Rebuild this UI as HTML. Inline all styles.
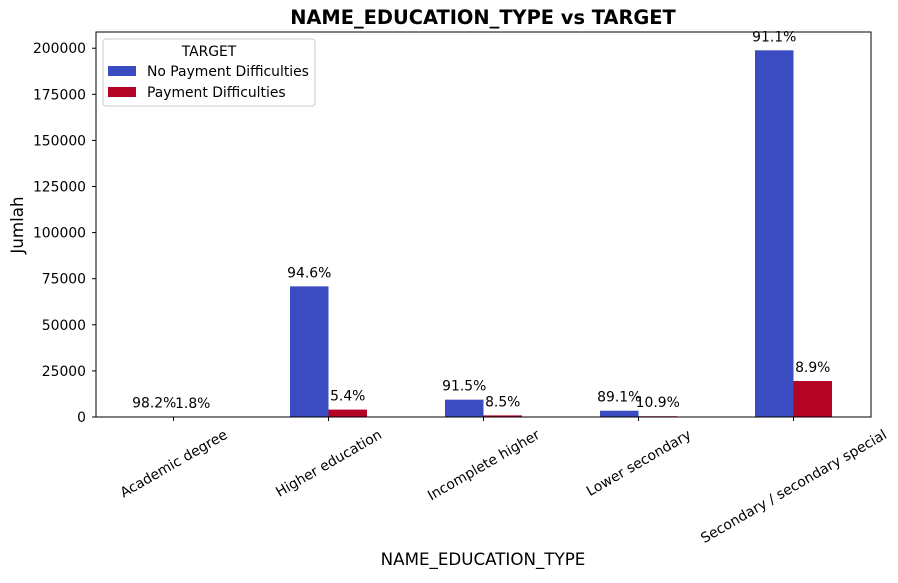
<!DOCTYPE html>
<html><head><meta charset="utf-8"><style>
body{margin:0;background:#fff;}
svg{font-family:"DejaVu Sans","Liberation Sans",sans-serif;}
</style></head><body>
<svg id="chart" width="898" height="578" xmlns="http://www.w3.org/2000/svg">
<text x="483" y="24" text-anchor="middle" font-size="19.4" font-weight="bold">NAME_EDUCATION_TYPE vs TARGET</text>
<g id="plot"></g>
<rect x="96" y="32" width="775" height="385" fill="none" stroke="#000" stroke-width="1"/>
<text x="483" y="565" text-anchor="middle" font-size="16.7">NAME_EDUCATION_TYPE</text>
<text transform="translate(23,225) rotate(-90)" text-anchor="middle" font-size="16.7">Jumlah</text>
<g>
<rect x="103" y="39" width="212" height="67" rx="3" fill="#fff" stroke="#ccc"/>
<text x="209" y="56" text-anchor="middle" font-size="13.9">TARGET</text>
<rect x="108" y="66" width="28" height="10" fill="#3b4cc0"/>
<text x="147" y="76" font-size="13.9">No Payment Difficulties</text>
<rect x="108" y="87" width="28" height="10" fill="#b40426"/>
<text x="147" y="97" font-size="13.9">Payment Difficulties</text>
</g>
</svg>
<script>
const categories=["Academic degree","Higher education","Incomplete higher","Lower secondary","Secondary / secondary special"];
const noDiff=[164,70854,9405,3399,198867];
const diff=[3,4009,872,417,19524];
const yTicks=[0,25000,50000,75000,100000,125000,150000,175000,200000];
const X0=96,W=775,Y0=417,YTOP=32,YMAX=208800;
const ns="http://www.w3.org/2000/svg";
const g=document.getElementById('plot');
const band=W/categories.length,bw=38.5;
const y=v=>Y0-(Y0-YTOP)*v/YMAX;
const xc=i=>X0+band*(i+0.5);
function mk(t,a,p){const e=document.createElementNS(ns,t);for(const k in a)e.setAttribute(k,a[k]);(p||g).appendChild(e);return e;}
yTicks.forEach(v=>{
  const l=mk('line',{x1:X0-4,x2:X0,y1:y(v),y2:y(v),stroke:'#000'});
  
  
  const t=mk('text',{x:X0-10,y:y(v)+5,'text-anchor':'end','font-size':13.9});
  t.textContent=v;
  
  
});
categories.forEach((c,i)=>{
  const cx=xc(i),tot=noDiff[i]+diff[i];
  [[noDiff[i],cx-bw,'#3b4cc0'],[diff[i],cx,'#b40426']].forEach(([v,x,col],j)=>{
    const r=mk('rect',{x:x,y:y(v),width:bw,height:Y0-y(v),fill:col});
    
    
    const t=mk('text',{x:x+bw/2,y:y(v)-9,'text-anchor':'middle','font-size':13.9});
    t.textContent=(v/tot*100).toFixed(1)+'%';
    
    
  });
  const tk=mk('line',{x1:cx,x2:cx,y1:Y0,y2:Y0+4,stroke:'#000'});
  
  
  const t=mk('text',{'text-anchor':'middle','font-size':13.9});
  t.textContent=c;
  
  
  const len=t.getComputedTextLength();
  const h=len*0.5+13.9*0.866;
  t.setAttribute('transform',`translate(${cx},${Y0+10+h/2}) rotate(-30) translate(0,5)`);
});
</script>
</body></html>
